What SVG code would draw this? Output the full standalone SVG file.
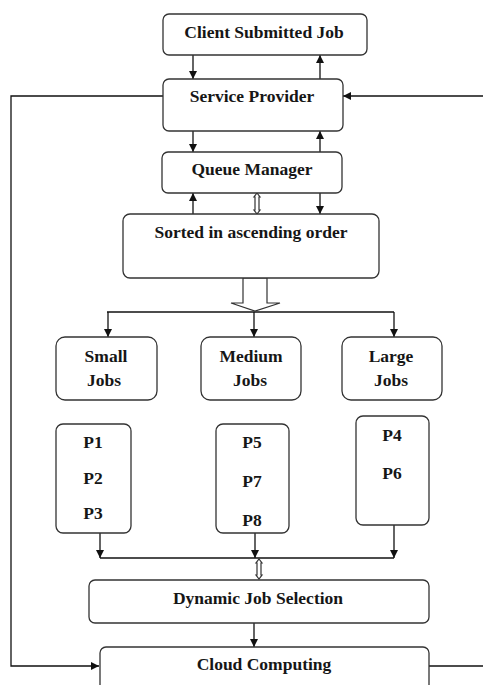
<svg xmlns="http://www.w3.org/2000/svg" width="483" height="685" viewBox="0 0 483 685">
<style>
.box{fill:#fff;stroke:#333;stroke-width:1.3}
.t{font-family:"Liberation Serif","Times New Roman",serif;font-weight:bold;font-size:17.5px;fill:#161616;text-anchor:middle}
.ln{fill:none;stroke:#111;stroke-width:1.3}
.hol{fill:#fff;stroke:#333;stroke-width:1.2}
</style>
<defs>
<marker id="ah" viewBox="0 0 10 10" refX="10" refY="5" markerWidth="8" markerHeight="8" markerUnits="userSpaceOnUse" orient="auto">
<path d="M0,0 L10,5 L0,10 z" fill="#111"/>
</marker>
</defs>
<rect width="483" height="685" fill="#fff"/>
<g id="connectors">
<line class="ln" x1="193" y1="55" x2="193" y2="79" marker-end="url(#ah)"/>
<line class="ln" x1="320" y1="79" x2="320" y2="55" marker-end="url(#ah)"/>
<line class="ln" x1="193" y1="131" x2="193" y2="152" marker-end="url(#ah)"/>
<line class="ln" x1="320" y1="152" x2="320" y2="131" marker-end="url(#ah)"/>
<line class="ln" x1="193" y1="214" x2="193" y2="193" marker-end="url(#ah)"/>
<line class="ln" x1="320" y1="193" x2="320" y2="214" marker-end="url(#ah)"/>
<path class="hol" d="M257,193 L260,197 L259,197 L259,210 L260,210 L257,214 L254,210 L255,210 L255,197 L254,197 Z"/>
<path class="ln" d="M163,96 L11,96 L11,666 L99,666" marker-end="url(#ah)"/>
<line class="ln" x1="483" y1="96" x2="343" y2="96" marker-end="url(#ah)"/>
<line class="ln" x1="107" y1="312" x2="394" y2="312"/>
<path class="hol" d="M243,278 L267,278 L267,303 L280,303 L255,311 L231,303 L243,303 Z"/>
<line class="ln" x1="108" y1="312" x2="108" y2="337" marker-end="url(#ah)"/>
<line class="ln" x1="254" y1="312" x2="254" y2="337" marker-end="url(#ah)"/>
<line class="ln" x1="394" y1="312" x2="394" y2="337" marker-end="url(#ah)"/>
<line class="ln" x1="100" y1="533" x2="100" y2="558" marker-end="url(#ah)"/>
<line class="ln" x1="255" y1="533" x2="255" y2="558" marker-end="url(#ah)"/>
<line class="ln" x1="394" y1="525" x2="394" y2="558" marker-end="url(#ah)"/>
<line class="ln" x1="100" y1="558" x2="394" y2="558"/>
<path class="hol" d="M259,559 L262,563 L261,563 L261,575 L262,575 L259,579 L256,575 L257,575 L257,563 L256,563 Z"/>
<line class="ln" x1="254" y1="623" x2="254" y2="647" marker-end="url(#ah)"/>
<line class="ln" x1="429" y1="666" x2="483" y2="666"/>
</g>
<g id="client">
<rect class="box" x="163" y="14" width="204" height="41" rx="6"/>
<text class="t" x="264" y="38">Client Submitted Job</text>
</g>
<g id="service">
<rect class="box" x="163" y="79" width="180" height="52" rx="6"/>
<text class="t" x="252" y="102">Service Provider</text>
</g>
<g id="queue">
<rect class="box" x="162" y="152" width="180" height="41" rx="6"/>
<text class="t" x="252" y="175">Queue Manager</text>
</g>
<g id="sorted">
<rect class="box" x="123" y="214" width="256" height="64" rx="7"/>
<text class="t" x="251" y="238">Sorted in ascending order</text>
</g>
<g id="small">
<rect class="box" x="56" y="337" width="101" height="63" rx="9"/>
<text class="t" x="106" y="362">Small</text>
<text class="t" x="104" y="386">Jobs</text>
</g>
<g id="medium">
<rect class="box" x="201" y="337" width="100" height="63" rx="9"/>
<text class="t" x="251" y="362">Medium</text>
<text class="t" x="250" y="386">Jobs</text>
</g>
<g id="large">
<rect class="box" x="342" y="337" width="100" height="63" rx="9"/>
<text class="t" x="391" y="362">Large</text>
<text class="t" x="391" y="386">Jobs</text>
</g>
<g id="psmall">
<rect class="box" x="56" y="424" width="75" height="109" rx="7"/>
<text class="t" x="93" y="448">P1</text>
<text class="t" x="93" y="484">P2</text>
<text class="t" x="93" y="519">P3</text>
</g>
<g id="pmedium">
<rect class="box" x="216" y="424" width="73" height="109" rx="7"/>
<text class="t" x="252" y="448">P5</text>
<text class="t" x="252" y="487">P7</text>
<text class="t" x="252" y="526">P8</text>
</g>
<g id="plarge">
<rect class="box" x="356" y="416" width="73" height="109" rx="7"/>
<text class="t" x="392" y="441">P4</text>
<text class="t" x="392" y="479">P6</text>
</g>
<g id="dynamic">
<rect class="box" x="89" y="580" width="340" height="43" rx="6"/>
<text class="t" x="258" y="604">Dynamic Job Selection</text>
</g>
<g id="cloud">
<rect class="box" x="100" y="647" width="329" height="50" rx="6"/>
<text class="t" x="264" y="670">Cloud Computing</text>
</g>
</svg>
